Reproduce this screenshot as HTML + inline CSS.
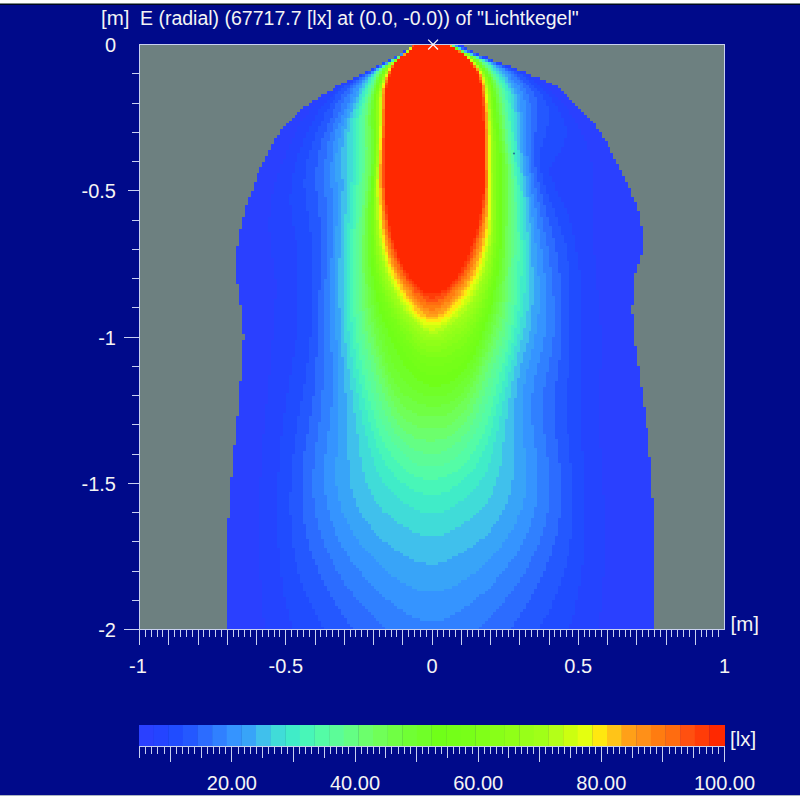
<!DOCTYPE html><html><head><meta charset="utf-8"><style>html,body{margin:0;padding:0;width:800px;height:800px;overflow:hidden;background:#000a8a}svg{display:block}text{font-family:"Liberation Sans",sans-serif;fill:#f4f4f4}</style></head><body><svg width="800" height="800" viewBox="0 0 800 800"><rect x="0" y="0" width="800" height="800" fill="#000a8a"/><rect x="0" y="0" width="800" height="3" fill="#fdfffe"/><rect x="0" y="3" width="800" height="1" fill="#7a8884"/><rect x="0" y="4" width="800" height="1" fill="#000820"/><rect x="0" y="795" width="800" height="1" fill="#a8b4c0"/><rect x="0" y="796" width="800" height="4" fill="#fbfffd"/><text x="101" y="24.8" font-size="20.5">[m]</text><text x="140" y="24.5" font-size="19.5">E (radial) (67717.7 [lx] at (0.0, -0.0)) of "Lichtkegel"</text><rect x="139" y="44" width="586" height="586" fill="#6d8080"/><g transform="translate(139.500 44.500) scale(2.9250)" shape-rendering="crispEdges"><path fill="#2a40ff" d="M93 0V1H92V2H90V3H89V4H87V5H85V6H83V7H81V8H79V9H77V10H75V11H73V12H71V13H69V14H67V15H66V16H64V17H62V18H61V19H59V20H58V21H56V22H55V23H54V24H53V25H52V26H51V27H50V28H49V29H48V31H47V32H46V34H45V36H44V38H43V40H42V42H41V44H40V47H39V50H38V52H37V55H36V59H35V63H34V69H33V82H34V89H35V99H36V101H35V115H34V127H33V137H32V148H31V162H30V200H176V155H175V141H174V131H173V124H172V117H171V110H170V103H169V92H168V89H169V78H170V75H171V72H172V62H171V57H170V54H169V52H168V49H167V47H166V45H165V43H164V41H163V39H162V37H161V35H160V33H159V32H158V30H157V29H156V27H155V26H154V25H153V24H152V23H151V22H150V21H149V20H148V19H147V18H146V17H145V16H144V15H143V14H141V13H139V12H137V11H134V10H132V9H129V8H127V7H124V6H121V5H119V4H116V3H114V2H112V1H111V0Z"/><path fill="#2444ff" d="M93 0V1H92V2H91V3H89V4H87V5H85V6H83V7H81V8H79V9H77V10H75V11H74V12H72V13H70V14H68V15H67V16H65V17H64V18H63V19H61V20H60V21H59V22H58V24H57V25H56V26H55V28H54V30H53V32H52V34H51V36H50V39H49V41H48V44H47V47H46V51H45V59H44V64H45V73H46V80H47V87H46V101H45V113H44V123H43V133H42V148H41V183H42V196H43V200H157V194H158V182H159V154H158V138H157V111H158V96H157V84H156V72H155V40H154V36H153V33H152V31H151V29H150V27H149V25H148V24H147V22H146V21H145V20H144V19H143V18H142V17H141V16H140V15H139V14H138V13H137V12H135V11H133V10H131V9H128V8H126V7H123V6H121V5H118V4H116V3H114V2H112V1H110V0Z"/><path fill="#204cff" d="M93 0V1H92V2H91V3H89V4H87V5H85V6H83V7H82V8H80V9H78V10H76V11H74V12H73V13H71V14H69V15H68V16H67V17H66V18H65V19H64V20H63V21H62V22H61V24H60V26H59V28H58V30H57V32H56V35H55V37H54V40H53V44H52V51H51V55H52V62H53V67H54V101H53V107H52V113H51V119H50V126H49V134H48V146H47V172H48V182H49V189H50V193H51V197H52V200H147V198H148V195H149V190H150V185H151V178H152V139H151V77H150V71H149V65H148V61H147V58H146V56H145V54H144V52H143V50H142V47H141V45H140V42H141V40H142V38H143V37H144V35H145V32H146V28H145V25H144V23H143V21H142V20H141V18H140V17H139V16H138V15H137V14H136V13H135V12H133V11H132V10H130V9H128V8H125V7H123V6H120V5H118V4H115V3H113V2H111V1H110V0Z"/><path fill="#2458ff" d="M93 0V1H92V2H91V3H89V4H87V5H86V6H84V7H82V8H80V9H78V10H76V11H75V12H73V13H72V14H70V15H69V16H68V17H67V19H66V20H65V22H64V23H63V26H62V28H61V30H60V33H59V36H58V39H57V46H56V49H57V57H58V64H59V100H58V109H57V116H56V122H55V127H54V133H53V140H52V153H51V161H52V172H53V177H54V181H55V184H56V187H57V189H58V191H59V193H60V195H61V197H62V199H63V200H137V198H138V196H139V195H140V193H141V190H142V188H143V185H144V182H145V179H146V175H147V169H148V143H147V133H146V114H147V74H146V68H145V65H144V62H143V59H142V56H141V54H140V51H139V48H138V44H137V35H138V32H139V28H140V21H139V19H138V17H137V16H136V15H135V14H134V13H133V12H132V11H131V10H129V9H127V8H125V7H122V6H120V5H117V4H115V3H113V2H111V1H109V0Z"/><path fill="#2c6cff" d="M93 0V1H92V2H91V3H89V4H88V5H86V6H84V7H82V8H80V9H79V10H77V11H75V12H74V13H73V14H72V15H71V16H70V17H69V19H68V20H67V22H66V25H65V27H64V30H63V32H62V36H61V42H60V50H61V59H62V84H61V107H60V120H59V127H58V133H57V139H56V164H57V169H58V173H59V176H60V178H61V181H62V183H63V185H64V187H65V189H66V190H67V192H68V193H69V195H70V196H71V198H72V199H73V200H127V199H128V197H129V196H130V194H131V193H132V191H133V190H134V188H135V186H136V184H137V182H138V180H139V177H140V175H141V171H142V168H143V162H144V143H143V135H142V115H143V108H144V78H143V71H142V66H141V62H140V59H139V55H138V51H137V47H136V42H135V30H136V18H135V16H134V15H133V14H132V13H131V12H130V11H129V10H128V9H126V8H124V7H122V6H119V5H117V4H115V3H113V2H111V1H109V0Z"/><path fill="#3080ff" d="M93 0V1H92V2H91V3H89V4H88V5H86V6H84V7H82V8H81V9H79V10H77V11H76V12H75V13H74V14H73V15H72V17H71V18H70V20H69V23H68V25H67V27H66V30H65V33H64V39H63V52H64V80H63V118H62V129H61V136H60V145H59V155H60V162H61V166H62V169H63V172H64V174H65V176H66V178H67V180H68V181H69V183H70V185H71V186H72V187H73V189H74V190H75V191H76V192H77V193H78V194H79V195H80V196H81V197H82V198H83V199H84V200H116V199H117V198H118V197H119V196H120V195H121V194H122V193H123V192H124V191H125V189H126V188H127V187H128V185H129V184H130V182H131V181H132V179H133V177H134V175H135V173H136V171H137V168H138V165H139V160H140V141H139V133H138V117H139V112H140V107H141V100H142V86H141V76H140V69H139V64H138V59H137V54H136V49H135V44H134V20H133V17H132V15H131V13H130V12H129V11H128V10H127V9H125V8H124V7H122V6H119V5H117V4H114V3H112V2H110V1H109V0Z"/><path fill="#3594ff" d="M93 0V1H92V2H91V3H89V4H88V5H86V6H84V7H83V8H81V9H79V10H78V11H77V12H76V13H75V14H74V15H73V17H72V20H71V22H70V24H69V27H68V29H67V33H66V40H65V49H66V73H65V105H66V124H65V132H64V140H63V154H64V159H65V163H66V165H67V168H68V170H69V172H70V173H71V175H72V177H73V178H74V179H75V180H76V182H77V183H78V184H79V185H80V186H81V187H82V188H83V189H84V190H86V191H87V192H88V193H90V194H91V195H93V196H96V197H104V196H106V195H108V194H110V193H111V192H113V191H114V190H115V189H116V188H118V187H119V186H120V185H121V184H122V182H123V181H124V180H125V179H126V177H127V176H128V175H129V173H130V171H131V169H132V167H133V165H134V162H135V158H136V138H135V130H134V119H135V113H136V109H137V105H138V100H139V78H138V70H137V63H136V56H135V51H134V44H133V38H132V19H131V16H130V14H129V13H128V12H127V10H126V9H125V8H123V7H121V6H119V5H116V4H114V3H112V2H110V1H109V0Z"/><path fill="#38a4f8" d="M93 0V1H92V2H91V3H90V4H88V5H86V6H84V7H83V8H81V9H80V10H78V11H77V12H76V14H75V16H74V18H73V20H72V22H71V25H70V28H69V32H68V37H67V47H68V62H67V101H68V141H67V151H68V156H69V160H70V162H71V164H72V166H73V168H74V169H75V171H76V172H77V173H78V174H79V175H80V176H81V177H82V178H83V179H84V180H85V181H86V182H88V183H89V184H91V185H93V186H95V187H104V186H107V185H109V184H110V183H112V182H113V181H115V180H116V179H117V178H118V177H119V176H120V175H121V174H122V173H123V172H124V170H125V169H126V167H127V166H128V164H129V161H130V159H131V155H132V138H131V116H132V111H133V108H134V104H135V99H136V92H137V79H136V68H135V59H134V52H133V45H132V38H131V23H130V17H129V15H128V13H127V12H126V10H125V9H124V8H122V7H121V6H119V5H116V4H114V3H112V2H110V1H108V0Z"/><path fill="#40c0ec" d="M93 0V1H92V2H91V3H90V4H88V5H86V6H85V7H83V8H81V9H80V10H79V11H78V12H77V13H76V15H75V18H74V20H73V23H72V25H71V29H70V35H69V46H70V50H69V73H68V90H69V107H70V119H71V142H72V152H73V155H74V158H75V160H76V162H77V163H78V164H79V166H80V167H81V168H82V169H83V170H85V171H86V172H87V173H89V174H90V175H92V176H94V177H98V178H102V177H105V176H107V175H109V174H111V173H112V172H114V171H115V170H116V169H118V168H119V167H120V165H121V164H122V163H123V161H124V159H125V157H126V154H127V149H128V121H129V114H130V109H131V105H132V102H133V98H134V89H135V76H134V61H133V52H132V45H131V37H130V23H129V17H128V15H127V13H126V11H125V10H124V9H123V8H122V7H120V6H118V5H116V4H114V3H112V2H110V1H108V0Z"/><path fill="#40dcd8" d="M93 0V1H92V2H91V3H90V4H88V5H86V6H85V7H83V8H82V9H80V10H79V11H78V13H77V15H76V17H75V20H74V22H73V25H72V30H71V58H70V102H71V111H72V118H73V126H74V133H75V141H76V146H77V150H78V152H79V154H80V156H81V157H82V158H83V160H85V161H86V162H87V163H88V164H90V165H92V166H93V167H96V168H104V167H106V166H108V165H110V164H111V163H113V162H114V161H115V160H116V159H117V158H118V157H119V155H120V154H121V151H122V148H123V144H124V136H125V128H126V121H127V115H128V110H129V105H130V101H131V97H132V91H133V64H132V52H131V44H130V36H129V23H128V17H127V15H126V13H125V11H124V10H123V9H122V8H121V7H120V6H118V5H116V4H114V3H111V2H110V1H108V0Z"/><path fill="#40ecc8" d="M93 0V1H92V2H91V3H90V4H88V5H86V6H85V7H83V8H82V9H81V10H80V11H79V12H78V14H77V16H76V19H75V22H74V25H73V47H72V61H71V98H72V107H73V114H74V119H75V125H76V130H77V134H78V138H79V141H80V144H81V146H82V148H83V150H84V151H85V152H86V153H87V154H88V155H89V156H90V157H92V158H94V159H96V160H104V159H106V158H108V157H109V156H111V155H112V154H113V153H114V152H115V151H116V149H117V148H118V146H119V143H120V140H121V136H122V132H123V127H124V122H125V117H126V112H127V108H128V103H129V99H130V93H131V85H132V67H131V50H130V42H129V33H128V22H127V16H126V14H125V12H124V11H123V10H122V9H121V7H119V6H118V5H116V4H113V3H111V2H110V1H108V0Z"/><path fill="#48f6b8" d="M93 0V1H92V2H91V3H90V4H88V5H87V6H85V7H83V8H82V9H81V10H80V11H79V13H78V15H77V18H76V21H75V25H74V48H73V63H72V95H73V104H74V111H75V116H76V121H77V125H78V129H79V132H80V135H81V138H82V140H83V142H84V144H85V145H86V146H87V148H88V149H89V150H91V151H92V152H94V153H97V154H103V153H106V152H107V151H109V150H110V149H111V148H112V147H113V146H114V145H115V143H116V141H117V139H118V137H119V134H120V131H121V127H122V123H123V119H124V115H125V110H126V106H127V102H128V97H129V91H130V79H131V67H130V48H129V40H128V30H127V20H126V16H125V13H124V12H123V10H122V9H121V8H120V7H119V6H117V5H115V4H113V3H111V2H109V1H108V0Z"/><path fill="#54fca6" d="M93 0V1H92V2H91V3H90V4H88V5H87V6H85V7H84V8H82V9H81V10H80V12H79V14H78V17H77V20H76V24H75V48H74V63H73V93H74V102H75V108H76V113H77V118H78V122H79V125H80V128H81V131H82V134H83V136H84V138H85V139H86V141H87V142H88V143H89V144H90V145H91V146H92V147H94V148H97V149H102V148H105V147H107V146H109V145H110V144H111V143H112V142H113V140H114V139H115V137H116V135H117V133H118V130H119V127H120V124H121V120H122V116H123V112H124V109H125V105H126V101H127V96H128V89H129V74H130V64H129V45H128V36H127V26H126V19H125V15H124V13H123V11H122V10H121V9H120V7H119V6H117V5H115V4H113V3H111V2H109V1H108V0Z"/><path fill="#5cfc98" d="M93 0V1H92V2H91V3H90V4H88V5H87V6H85V7H84V8H82V9H81V11H80V13H79V15H78V18H77V22H76V47H75V61H74V92H75V101H76V106H77V111H78V115H79V119H80V122H81V125H82V128H83V130H84V132H85V134H86V136H87V137H88V138H89V139H90V140H91V141H92V142H93V143H95V144H104V143H106V142H108V141H109V140H110V139H111V138H112V136H113V135H114V133H115V131H116V129H117V126H118V123H119V120H120V117H121V114H122V111H123V107H124V104H125V101H126V96H127V89H128V72H129V54H128V41H127V33H126V23H125V17H124V14H123V12H122V10H121V9H120V8H119V7H118V6H117V5H115V4H113V3H111V2H109V1H108V0Z"/><path fill="#64fe84" d="M93 0V1H92V2H91V3H90V4H88V5H87V6H85V7H84V8H83V9H82V10H81V12H80V14H79V17H78V20H77V44H76V59H75V91H76V99H77V104H78V108H79V112H80V115H81V119H82V122H83V125H84V127H85V129H86V131H87V133H88V134H89V135H90V136H91V137H92V138H94V139H97V140H103V139H105V138H107V137H108V136H110V134H111V133H112V132H113V130H114V128H115V126H116V123H117V120H118V117H119V114H120V111H121V109H122V106H123V103H124V100H125V95H126V88H127V73H128V46H127V37H126V29H125V20H124V15H123V13H122V11H121V10H120V8H119V7H118V6H117V5H115V4H113V3H111V2H109V1H108V0Z"/><path fill="#6cff6c" d="M93 0V1H92V2H91V3H90V4H88V5H87V6H85V7H84V8H83V9H82V10H81V12H80V15H79V18H78V24H77V35H78V36H77V55H76V91H77V98H78V102H79V106H80V109H81V113H82V116H83V119H84V122H85V124H86V127H87V128H88V130H89V131H90V132H91V133H93V134H94V135H98V136H101V135H105V134H107V133H108V132H109V131H110V130H111V129H112V127H113V126H114V123H115V121H116V118H117V115H118V112H119V109H120V107H121V104H122V101H123V98H124V94H125V88H126V76H127V41H126V34H125V24H124V18H123V14H122V12H121V10H120V9H119V8H118V7H117V6H116V5H115V4H113V3H111V2H109V1H107V0Z"/><path fill="#70ff58" d="M93 0V1H92V2H91V3H90V4H89V5H87V6H85V7H84V8H83V9H82V11H81V13H80V16H79V20H78V50H77V65H76V78H77V90H78V96H79V100H80V104H81V107H82V111H83V114H84V117H85V120H86V122H87V124H88V126H89V127H90V128H91V129H93V130H95V131H105V130H107V129H108V128H109V127H110V126H111V125H112V123H113V121H114V119H115V116H116V113H117V110H118V108H119V105H120V103H121V100H122V97H123V93H124V88H125V79H126V37H125V29H124V20H123V15H122V12H121V11H120V9H119V8H118V7H117V6H116V5H115V4H113V3H111V2H109V1H107V0Z"/><path fill="#70ff44" d="M93 0V1H92V2H91V3H90V4H89V5H87V6H86V7H84V8H83V10H82V11H81V14H80V17H79V24H78V28H79V45H78V56H77V82H78V90H79V95H80V99H81V103H82V106H83V110H84V113H85V116H86V118H87V120H88V121H89V123H90V124H91V125H93V126H95V127H105V126H107V125H108V124H109V123H110V122H111V121H112V119H113V117H114V115H115V113H116V110H117V107H118V105H119V102H120V99H121V96H122V92H123V88H124V81H125V62H126V41H125V33H124V24H123V17H122V13H121V11H120V10H119V8H118V7H117V6H116V5H114V4H113V3H111V2H109V1H107V0Z"/><path fill="#70ff34" d="M93 0V1H92V2H91V3H90V4H89V5H87V6H86V7H84V8H83V10H82V12H81V15H80V19H79V50H78V83H79V89H80V94H81V97H82V101H83V105H84V109H85V112H86V114H87V116H88V117H89V119H90V120H92V121H93V122H95V123H98V124H103V123H106V122H108V121H109V120H110V119H111V117H112V116H113V114H114V112H115V110H116V107H117V104H118V101H119V99H120V95H121V92H122V88H123V82H124V73H125V37H124V29H123V20H122V15H121V12H120V10H119V9H118V8H117V6H116V5H114V4H112V3H110V2H109V1H107V0Z"/><path fill="#70ff28" d="M93 0V1H92V2H91V3H90V4H89V5H87V6H86V7H85V8H84V9H83V10H82V13H81V16H80V22H79V29H80V41H79V54H78V76H79V84H80V89H81V93H82V96H83V99H84V103H85V106H86V109H87V111H88V112H89V114H90V115H91V116H92V117H93V118H95V119H97V120H105V119H107V118H108V117H109V116H110V115H111V114H112V113H113V111H114V109H115V107H116V104H117V101H118V98H119V95H120V92H121V88H122V83H123V77H124V33H123V23H122V16H121V13H120V11H119V9H118V8H117V7H116V6H115V5H114V4H112V3H110V2H109V1H107V0Z"/><path fill="#70ff18" d="M93 0V1H92V2H91V3H90V4H89V5H87V6H86V7H85V8H84V9H83V11H82V14H81V17H80V45H79V79H80V84H81V88H82V92H83V95H84V97H85V100H86V102H87V104H88V106H89V108H90V110H91V111H92V112H93V113H94V114H95V115H97V116H99V117H103V116H106V115H108V114H109V113H110V112H111V111H112V109H113V108H114V106H115V103H116V101H117V98H118V95H119V92H120V89H121V84H122V79H123V70H124V37H123V27H122V18H121V14H120V11H119V10H118V8H117V7H116V6H115V5H114V4H112V3H110V2H109V1H107V0Z"/><path fill="#74ff18" d="M93 0V1H92V2H91V3H90V4H89V5H87V6H86V7H85V8H84V9H83V11H82V14H81V19H80V49H79V73H80V80H81V85H82V88H83V91H84V94H85V96H86V98H87V100H88V102H89V103H90V105H91V107H92V108H93V109H94V110H95V111H96V112H98V113H105V112H107V111H109V110H110V109H111V108H112V106H113V105H114V103H115V101H116V98H117V95H118V92H119V89H120V85H121V81H122V74H123V31H122V22H121V15H120V12H119V10H118V8H117V7H116V6H115V5H114V4H112V3H110V2H109V1H107V0Z"/><path fill="#78ff18" d="M93 0V1H92V2H91V3H90V4H89V5H87V6H86V7H85V8H84V10H83V12H82V15H81V22H80V26H81V36H80V55H79V65H80V76H81V81H82V85H83V88H84V91H85V93H86V95H87V97H88V99H89V100H90V102H91V103H92V104H93V106H94V107H95V108H96V109H98V110H104V109H107V108H108V107H110V106H111V105H112V103H113V102H114V100H115V98H116V95H117V93H118V90H119V86H120V82H121V77H122V69H123V36H122V25H121V16H120V12H119V10H118V9H117V7H116V6H115V5H114V4H112V3H110V2H109V1H107V0Z"/><path fill="#80ff18" d="M93 0V1H92V2H91V3H90V4H89V5H87V6H86V7H85V8H84V10H83V13H82V16H81V41H80V72H81V78H82V82H83V85H84V88H85V90H86V93H87V94H88V96H89V98H90V99H91V101H92V102H93V103H94V104H95V105H96V106H98V107H105V106H107V105H108V104H110V103H111V102H112V100H113V99H114V97H115V95H116V93H117V90H118V87H119V83H120V79H121V73H122V29H121V19H120V13H119V11H118V9H117V8H116V7H115V6H114V5H113V4H112V3H110V2H108V1H107V0Z"/><path fill="#88ff18" d="M93 0V1H92V2H91V3H90V4H89V5H87V6H86V7H85V8H84V10H83V13H82V17H81V45H80V67H81V75H82V79H83V83H84V86H85V88H86V90H87V92H88V94H89V96H90V97H91V98H92V99H93V101H94V102H95V103H96V104H98V105H103V104H105V103H107V102H109V101H110V100H111V99H112V98H113V96H114V95H115V92H116V90H117V87H118V84H119V80H120V76H121V68H122V33H121V22H120V14H119V11H118V9H117V8H116V7H115V6H114V5H113V4H112V3H110V2H108V1H107V0Z"/><path fill="#90ff18" d="M93 0V1H92V2H91V3H90V4H89V5H88V6H86V7H85V9H84V11H83V14H82V19H81V49H80V60H81V72H82V77H83V81H84V84H85V86H86V88H87V90H88V92H89V94H90V95H91V96H92V98H93V99H94V100H95V101H96V102H98V103H103V102H105V101H107V100H108V99H110V98H111V97H112V95H113V94H114V92H115V90H116V88H117V85H118V82H119V78H120V72H121V60H122V53H121V25H120V16H119V12H118V10H117V8H116V7H115V6H114V5H113V4H112V3H110V2H108V1H107V0Z"/><path fill="#98ff18" d="M93 0V1H92V2H91V3H90V4H89V5H88V6H86V7H85V9H84V11H83V15H82V34H81V69H82V74H83V78H84V82H85V84H86V87H87V89H88V90H89V92H90V94H91V95H92V96H93V97H94V98H95V99H96V100H97V101H104V100H105V99H107V98H108V97H110V96H111V95H112V93H113V92H114V90H115V88H116V85H117V82H118V79H119V75H120V68H121V28H120V17H119V12H118V10H117V8H116V7H115V6H114V5H113V4H112V3H110V2H108V1H107V0Z"/><path fill="#a0ff18" d="M93 0V1H92V2H91V3H90V4H89V5H88V6H86V7H85V9H84V12H83V15H82V38H81V65H82V72H83V76H84V80H85V83H86V85H87V87H88V89H89V90H90V92H91V93H92V95H93V96H94V97H95V98H96V99H98V100H103V99H104V98H106V97H107V96H109V95H110V94H111V93H112V91H113V90H114V88H115V86H116V83H117V80H118V77H119V72H120V64H121V44H120V20H119V13H118V10H117V9H116V7H115V6H114V5H113V4H112V3H110V2H108V1H107V0Z"/><path fill="#b4ff18" d="M93 0V1H92V2H91V3H90V4H89V5H88V6H86V8H85V10H84V12H83V16H82V42H81V60H82V69H83V74H84V78H85V81H86V83H87V85H88V87H89V89H90V91H91V92H92V93H93V94H94V95H95V96H96V97H97V98H99V99H102V98H104V97H105V96H107V95H108V94H109V93H110V92H111V91H112V89H113V88H114V86H115V84H116V81H117V78H118V74H119V69H120V22H119V14H118V11H117V9H116V7H115V6H114V5H113V4H111V3H110V2H108V1H107V0Z"/><path fill="#ccff10" d="M93 0V1H92V3H90V4H89V5H88V6H87V7H86V8H85V10H84V13H83V18H82V46H81V52H82V66H83V72H84V76H85V79H86V82H87V84H88V86H89V88H90V89H91V91H92V92H93V93H94V94H95V95H96V96H97V97H99V98H101V97H103V96H105V95H106V94H107V93H109V91H110V90H111V89H112V88H113V86H114V84H115V82H116V79H117V76H118V71H119V65H120V26H119V15H118V11H117V9H116V8H115V6H114V5H113V4H111V3H110V2H108V1H107V0Z"/><path fill="#e4ff10" d="M93 0V1H92V3H90V4H89V5H88V6H87V7H86V8H85V10H84V13H83V28H82V63H83V70H84V74H85V78H86V80H87V83H88V84H89V86H90V88H91V89H92V91H93V92H94V93H95V94H96V95H97V96H103V95H105V94H106V93H107V92H108V91H109V90H110V89H111V87H112V86H113V84H114V82H115V80H116V77H117V73H118V69H119V60H120V31H119V17H118V12H117V9H116V8H115V7H114V6H113V5H112V4H111V3H110V2H108V1H107V0Z"/><path fill="#ffe810" d="M93 0V2H92V3H90V4H89V5H88V6H87V7H86V8H85V11H84V14H83V32H82V60H83V68H84V72H85V76H86V79H87V81H88V83H89V85H90V87H91V88H92V89H93V91H94V92H95V93H96V94H98V95H103V94H104V93H106V92H107V91H108V90H109V89H110V87H111V86H112V84H113V82H114V80H115V78H116V75H117V71H118V66H119V19H118V12H117V10H116V8H115V7H114V6H113V5H112V4H111V3H110V2H108V1H107V0Z"/><path fill="#ffc418" d="M93 0V2H92V3H90V4H89V5H88V6H87V7H86V9H85V11H84V15H83V36H82V55H83V65H84V71H85V75H86V77H87V80H88V82H89V84H90V85H91V87H92V88H93V89H94V91H95V92H96V93H98V94H102V93H104V92H105V91H106V90H107V89H108V88H109V87H110V86H111V84H112V83H113V81H114V79H115V76H116V73H117V69H118V63H119V20H118V13H117V10H116V8H115V7H114V6H113V5H112V4H111V3H110V2H108V1H107V0Z"/><path fill="#ffa018" d="M93 0V2H92V3H90V4H89V5H88V6H87V7H86V9H85V11H84V15H83V41H82V49H83V63H84V69H85V73H86V76H87V78H88V80H89V82H90V84H91V86H92V87H93V88H94V89H95V90H96V91H97V92H98V93H102V92H104V91H105V90H106V89H107V88H108V87H109V86H110V84H111V83H112V81H113V79H114V77H115V74H116V71H117V66H118V59H119V23H118V14H117V10H116V8H115V7H114V6H113V5H112V4H111V3H110V2H108V1H106V0Z"/><path fill="#ff9018" d="M93 0V2H92V3H91V4H89V5H88V6H87V7H86V9H85V12H84V17H83V60H84V67H85V72H86V75H87V77H88V79H89V81H90V83H91V84H92V86H93V87H94V88H95V89H96V90H97V91H99V92H102V91H103V90H105V89H106V88H107V87H108V86H109V84H110V83H111V81H112V80H113V77H114V75H115V72H116V69H117V64H118V55H119V29H118V14H117V11H116V9H115V7H114V6H113V5H112V4H111V3H110V2H108V1H106V0Z"/><path fill="#ff7c10" d="M93 0V2H92V3H91V4H89V5H88V6H87V7H86V9H85V12H84V22H83V57H84V65H85V70H86V73H87V76H88V78H89V80H90V82H91V83H92V84H93V86H94V87H95V88H96V89H97V90H99V91H101V90H103V89H104V88H106V87H107V86H108V84H109V83H110V82H111V80H112V78H113V76H114V73H115V70H116V66H117V61H118V49H119V43H118V16H117V11H116V9H115V7H114V6H113V5H112V4H111V3H110V2H108V1H106V0Z"/><path fill="#ff6c10" d="M93 0V2H92V3H91V4H89V5H88V6H87V7H86V10H85V13H84V28H83V53H84V63H85V68H86V72H87V74H88V77H89V79H90V80H91V82H92V83H93V85H94V86H95V87H96V88H98V89H103V88H104V87H105V86H106V85H107V84H108V83H109V82H110V80H111V79H112V77H113V74H114V72H115V68H116V64H117V58H118V17H117V12H116V9H115V8H114V6H113V5H112V4H111V3H109V2H108V1H106V0Z"/><path fill="#ff5010" d="M93 0V2H92V3H91V4H89V5H88V6H87V8H86V10H85V13H84V32H83V49H84V60H85V66H86V70H87V73H88V75H89V77H90V79H91V81H92V82H93V83H94V85H96V86H97V87H98V88H102V87H104V86H105V85H106V84H107V83H108V82H109V81H110V79H111V77H112V75H113V73H114V70H115V66H116V62H117V56H118V18H117V12H116V9H115V8H114V6H113V5H112V4H111V3H109V2H108V1H106V0Z"/><path fill="#ff3c08" d="M94 0V1H93V2H92V3H91V4H89V5H88V6H87V8H86V10H85V14H84V58H85V64H86V68H87V71H88V74H89V76H90V78H91V80H92V81H93V82H94V83H95V84H96V85H97V86H99V87H101V86H103V85H105V84H106V83H107V82H108V81H109V79H110V78H111V76H112V74H113V71H114V68H115V65H116V60H117V53H118V21H117V13H116V9H115V8H114V6H113V5H112V4H111V3H109V2H108V1H106V0Z"/><path fill="#ff2800" d="M94 0V1H93V2H92V3H91V4H89V5H88V6H87V8H86V11H85V15H84V55H85V62H86V67H87V70H88V73H89V75H90V77H91V78H92V80H93V81H94V82H95V83H96V84H97V85H103V84H105V83H106V82H107V81H108V80H109V78H110V76H111V74H112V72H113V69H114V66H115V63H116V58H117V51H118V26H117V13H116V10H115V8H114V7H113V5H112V4H111V3H109V2H108V1H106V0Z"/></g><circle cx="514" cy="153.5" r="1.1" fill="#2a7a98"/><g fill="#c8d0f0" shape-rendering="crispEdges"><rect x="139" y="44" width="586" height="1"/><rect x="139" y="629" width="586" height="1"/><rect x="139" y="44" width="1" height="601"/><rect x="724" y="44" width="1" height="586"/><rect x="144.85" y="630" width="1" height="7"/><rect x="150.70" y="630" width="1" height="7"/><rect x="156.55" y="630" width="1" height="7"/><rect x="162.40" y="630" width="1" height="7"/><rect x="168.25" y="630" width="1" height="15"/><rect x="174.10" y="630" width="1" height="7"/><rect x="179.95" y="630" width="1" height="7"/><rect x="185.80" y="630" width="1" height="7"/><rect x="191.65" y="630" width="1" height="7"/><rect x="197.50" y="630" width="1" height="15"/><rect x="203.35" y="630" width="1" height="7"/><rect x="209.20" y="630" width="1" height="7"/><rect x="215.05" y="630" width="1" height="7"/><rect x="220.90" y="630" width="1" height="7"/><rect x="226.75" y="630" width="1" height="15"/><rect x="232.60" y="630" width="1" height="7"/><rect x="238.45" y="630" width="1" height="7"/><rect x="244.30" y="630" width="1" height="7"/><rect x="250.15" y="630" width="1" height="7"/><rect x="256.00" y="630" width="1" height="15"/><rect x="261.85" y="630" width="1" height="7"/><rect x="267.70" y="630" width="1" height="7"/><rect x="273.55" y="630" width="1" height="7"/><rect x="279.40" y="630" width="1" height="7"/><rect x="285.25" y="630" width="1" height="15"/><rect x="291.10" y="630" width="1" height="7"/><rect x="296.95" y="630" width="1" height="7"/><rect x="302.80" y="630" width="1" height="7"/><rect x="308.65" y="630" width="1" height="7"/><rect x="314.50" y="630" width="1" height="15"/><rect x="320.35" y="630" width="1" height="7"/><rect x="326.20" y="630" width="1" height="7"/><rect x="332.05" y="630" width="1" height="7"/><rect x="337.90" y="630" width="1" height="7"/><rect x="343.75" y="630" width="1" height="15"/><rect x="349.60" y="630" width="1" height="7"/><rect x="355.45" y="630" width="1" height="7"/><rect x="361.30" y="630" width="1" height="7"/><rect x="367.15" y="630" width="1" height="7"/><rect x="373.00" y="630" width="1" height="15"/><rect x="378.85" y="630" width="1" height="7"/><rect x="384.70" y="630" width="1" height="7"/><rect x="390.55" y="630" width="1" height="7"/><rect x="396.40" y="630" width="1" height="7"/><rect x="402.25" y="630" width="1" height="15"/><rect x="408.10" y="630" width="1" height="7"/><rect x="413.95" y="630" width="1" height="7"/><rect x="419.80" y="630" width="1" height="7"/><rect x="425.65" y="630" width="1" height="7"/><rect x="431.50" y="630" width="1" height="15"/><rect x="437.35" y="630" width="1" height="7"/><rect x="443.20" y="630" width="1" height="7"/><rect x="449.05" y="630" width="1" height="7"/><rect x="454.90" y="630" width="1" height="7"/><rect x="460.75" y="630" width="1" height="15"/><rect x="466.60" y="630" width="1" height="7"/><rect x="472.45" y="630" width="1" height="7"/><rect x="478.30" y="630" width="1" height="7"/><rect x="484.15" y="630" width="1" height="7"/><rect x="490.00" y="630" width="1" height="15"/><rect x="495.85" y="630" width="1" height="7"/><rect x="501.70" y="630" width="1" height="7"/><rect x="507.55" y="630" width="1" height="7"/><rect x="513.40" y="630" width="1" height="7"/><rect x="519.25" y="630" width="1" height="15"/><rect x="525.10" y="630" width="1" height="7"/><rect x="530.95" y="630" width="1" height="7"/><rect x="536.80" y="630" width="1" height="7"/><rect x="542.65" y="630" width="1" height="7"/><rect x="548.50" y="630" width="1" height="15"/><rect x="554.35" y="630" width="1" height="7"/><rect x="560.20" y="630" width="1" height="7"/><rect x="566.05" y="630" width="1" height="7"/><rect x="571.90" y="630" width="1" height="7"/><rect x="577.75" y="630" width="1" height="15"/><rect x="583.60" y="630" width="1" height="7"/><rect x="589.45" y="630" width="1" height="7"/><rect x="595.30" y="630" width="1" height="7"/><rect x="601.15" y="630" width="1" height="7"/><rect x="607.00" y="630" width="1" height="15"/><rect x="612.85" y="630" width="1" height="7"/><rect x="618.70" y="630" width="1" height="7"/><rect x="624.55" y="630" width="1" height="7"/><rect x="630.40" y="630" width="1" height="7"/><rect x="636.25" y="630" width="1" height="15"/><rect x="642.10" y="630" width="1" height="7"/><rect x="647.95" y="630" width="1" height="7"/><rect x="653.80" y="630" width="1" height="7"/><rect x="659.65" y="630" width="1" height="7"/><rect x="665.50" y="630" width="1" height="15"/><rect x="671.35" y="630" width="1" height="7"/><rect x="677.20" y="630" width="1" height="7"/><rect x="683.05" y="630" width="1" height="7"/><rect x="688.90" y="630" width="1" height="7"/><rect x="694.75" y="630" width="1" height="15"/><rect x="700.60" y="630" width="1" height="7"/><rect x="706.45" y="630" width="1" height="7"/><rect x="712.30" y="630" width="1" height="7"/><rect x="718.15" y="630" width="1" height="7"/><rect x="132" y="73.25" width="7" height="1"/><rect x="132" y="102.50" width="7" height="1"/><rect x="132" y="131.75" width="7" height="1"/><rect x="132" y="161.00" width="7" height="1"/><rect x="128" y="190.25" width="11" height="1"/><rect x="132" y="219.50" width="7" height="1"/><rect x="132" y="248.75" width="7" height="1"/><rect x="132" y="278.00" width="7" height="1"/><rect x="132" y="307.25" width="7" height="1"/><rect x="124" y="336.50" width="15" height="1"/><rect x="132" y="365.75" width="7" height="1"/><rect x="132" y="395.00" width="7" height="1"/><rect x="132" y="424.25" width="7" height="1"/><rect x="132" y="453.50" width="7" height="1"/><rect x="128" y="482.75" width="11" height="1"/><rect x="132" y="512.00" width="7" height="1"/><rect x="132" y="541.25" width="7" height="1"/><rect x="132" y="570.50" width="7" height="1"/><rect x="132" y="599.75" width="7" height="1"/><rect x="124" y="629.00" width="15" height="1"/></g><g stroke="#ffffff" stroke-width="1.2"><line x1="428.2" y1="39.7" x2="438" y2="49.5"/><line x1="438" y1="39.7" x2="428.2" y2="49.5"/></g><text x="116" y="52.0" font-size="20" text-anchor="end">0</text><text x="116" y="198.2" font-size="20" text-anchor="end">-0.5</text><text x="116" y="344.5" font-size="20" text-anchor="end">-1</text><text x="116" y="490.8" font-size="20" text-anchor="end">-1.5</text><text x="116" y="637.0" font-size="20" text-anchor="end">-2</text><text x="138.0" y="672.5" font-size="20" text-anchor="middle">-1</text><text x="285.8" y="672.5" font-size="20" text-anchor="middle">-0.5</text><text x="432.0" y="672.5" font-size="20" text-anchor="middle">0</text><text x="578.2" y="672.5" font-size="20" text-anchor="middle">0.5</text><text x="724.5" y="672.5" font-size="20" text-anchor="middle">1</text><text x="730.5" y="630.5" font-size="20.5">[m]</text><rect x="139.00" y="725" width="14.93" height="21" fill="#2a40ff"/><rect x="153.62" y="725" width="14.93" height="21" fill="#2444ff"/><rect x="168.25" y="725" width="14.93" height="21" fill="#204cff"/><rect x="182.88" y="725" width="14.93" height="21" fill="#2458ff"/><rect x="197.50" y="725" width="14.93" height="21" fill="#2c6cff"/><rect x="212.12" y="725" width="14.93" height="21" fill="#3080ff"/><rect x="226.75" y="725" width="14.93" height="21" fill="#3594ff"/><rect x="241.38" y="725" width="14.93" height="21" fill="#38a4f8"/><rect x="256.00" y="725" width="14.93" height="21" fill="#40c0ec"/><rect x="270.62" y="725" width="14.93" height="21" fill="#40dcd8"/><rect x="285.25" y="725" width="14.93" height="21" fill="#40ecc8"/><rect x="299.88" y="725" width="14.93" height="21" fill="#48f6b8"/><rect x="314.50" y="725" width="14.93" height="21" fill="#54fca6"/><rect x="329.12" y="725" width="14.93" height="21" fill="#5cfc98"/><rect x="343.75" y="725" width="14.93" height="21" fill="#64fe84"/><rect x="358.38" y="725" width="14.93" height="21" fill="#6cff6c"/><rect x="373.00" y="725" width="14.93" height="21" fill="#70ff58"/><rect x="387.62" y="725" width="14.93" height="21" fill="#70ff44"/><rect x="402.25" y="725" width="14.93" height="21" fill="#70ff34"/><rect x="416.88" y="725" width="14.93" height="21" fill="#70ff28"/><rect x="431.50" y="725" width="14.93" height="21" fill="#70ff18"/><rect x="446.12" y="725" width="14.93" height="21" fill="#74ff18"/><rect x="460.75" y="725" width="14.93" height="21" fill="#78ff18"/><rect x="475.38" y="725" width="14.93" height="21" fill="#80ff18"/><rect x="490.00" y="725" width="14.93" height="21" fill="#88ff18"/><rect x="504.62" y="725" width="14.93" height="21" fill="#90ff18"/><rect x="519.25" y="725" width="14.93" height="21" fill="#98ff18"/><rect x="533.88" y="725" width="14.93" height="21" fill="#a0ff18"/><rect x="548.50" y="725" width="14.93" height="21" fill="#b4ff18"/><rect x="563.12" y="725" width="14.93" height="21" fill="#ccff10"/><rect x="577.75" y="725" width="14.93" height="21" fill="#e4ff10"/><rect x="592.38" y="725" width="14.93" height="21" fill="#ffe810"/><rect x="607.00" y="725" width="14.93" height="21" fill="#ffc418"/><rect x="621.62" y="725" width="14.93" height="21" fill="#ffa018"/><rect x="636.25" y="725" width="14.93" height="21" fill="#ff9018"/><rect x="650.88" y="725" width="14.93" height="21" fill="#ff7c10"/><rect x="665.50" y="725" width="14.93" height="21" fill="#ff6c10"/><rect x="680.12" y="725" width="14.93" height="21" fill="#ff5010"/><rect x="694.75" y="725" width="14.93" height="21" fill="#ff3c08"/><rect x="709.38" y="725" width="15.62" height="21" fill="#ff2800"/><g fill="#c8d0f0" shape-rendering="crispEdges"><rect x="139" y="746" width="586" height="1"/><rect x="139.00" y="747" width="1" height="11"/><rect x="145.16" y="747" width="1" height="7"/><rect x="151.32" y="747" width="1" height="7"/><rect x="157.47" y="747" width="1" height="7"/><rect x="163.63" y="747" width="1" height="7"/><rect x="169.79" y="747" width="1" height="15"/><rect x="175.95" y="747" width="1" height="7"/><rect x="182.11" y="747" width="1" height="7"/><rect x="188.26" y="747" width="1" height="7"/><rect x="194.42" y="747" width="1" height="7"/><rect x="200.58" y="747" width="1" height="11"/><rect x="206.74" y="747" width="1" height="7"/><rect x="212.89" y="747" width="1" height="7"/><rect x="219.05" y="747" width="1" height="7"/><rect x="225.21" y="747" width="1" height="7"/><rect x="231.37" y="747" width="1" height="15"/><rect x="237.53" y="747" width="1" height="7"/><rect x="243.68" y="747" width="1" height="7"/><rect x="249.84" y="747" width="1" height="7"/><rect x="256.00" y="747" width="1" height="7"/><rect x="262.16" y="747" width="1" height="11"/><rect x="268.32" y="747" width="1" height="7"/><rect x="274.47" y="747" width="1" height="7"/><rect x="280.63" y="747" width="1" height="7"/><rect x="286.79" y="747" width="1" height="7"/><rect x="292.95" y="747" width="1" height="15"/><rect x="299.11" y="747" width="1" height="7"/><rect x="305.26" y="747" width="1" height="7"/><rect x="311.42" y="747" width="1" height="7"/><rect x="317.58" y="747" width="1" height="7"/><rect x="323.74" y="747" width="1" height="11"/><rect x="329.89" y="747" width="1" height="7"/><rect x="336.05" y="747" width="1" height="7"/><rect x="342.21" y="747" width="1" height="7"/><rect x="348.37" y="747" width="1" height="7"/><rect x="354.53" y="747" width="1" height="15"/><rect x="360.68" y="747" width="1" height="7"/><rect x="366.84" y="747" width="1" height="7"/><rect x="373.00" y="747" width="1" height="7"/><rect x="379.16" y="747" width="1" height="7"/><rect x="385.32" y="747" width="1" height="11"/><rect x="391.47" y="747" width="1" height="7"/><rect x="397.63" y="747" width="1" height="7"/><rect x="403.79" y="747" width="1" height="7"/><rect x="409.95" y="747" width="1" height="7"/><rect x="416.11" y="747" width="1" height="15"/><rect x="422.26" y="747" width="1" height="7"/><rect x="428.42" y="747" width="1" height="7"/><rect x="434.58" y="747" width="1" height="7"/><rect x="440.74" y="747" width="1" height="7"/><rect x="446.89" y="747" width="1" height="11"/><rect x="453.05" y="747" width="1" height="7"/><rect x="459.21" y="747" width="1" height="7"/><rect x="465.37" y="747" width="1" height="7"/><rect x="471.53" y="747" width="1" height="7"/><rect x="477.68" y="747" width="1" height="15"/><rect x="483.84" y="747" width="1" height="7"/><rect x="490.00" y="747" width="1" height="7"/><rect x="496.16" y="747" width="1" height="7"/><rect x="502.32" y="747" width="1" height="7"/><rect x="508.47" y="747" width="1" height="11"/><rect x="514.63" y="747" width="1" height="7"/><rect x="520.79" y="747" width="1" height="7"/><rect x="526.95" y="747" width="1" height="7"/><rect x="533.11" y="747" width="1" height="7"/><rect x="539.26" y="747" width="1" height="15"/><rect x="545.42" y="747" width="1" height="7"/><rect x="551.58" y="747" width="1" height="7"/><rect x="557.74" y="747" width="1" height="7"/><rect x="563.89" y="747" width="1" height="7"/><rect x="570.05" y="747" width="1" height="11"/><rect x="576.21" y="747" width="1" height="7"/><rect x="582.37" y="747" width="1" height="7"/><rect x="588.53" y="747" width="1" height="7"/><rect x="594.68" y="747" width="1" height="7"/><rect x="600.84" y="747" width="1" height="15"/><rect x="607.00" y="747" width="1" height="7"/><rect x="613.16" y="747" width="1" height="7"/><rect x="619.32" y="747" width="1" height="7"/><rect x="625.47" y="747" width="1" height="7"/><rect x="631.63" y="747" width="1" height="11"/><rect x="637.79" y="747" width="1" height="7"/><rect x="643.95" y="747" width="1" height="7"/><rect x="650.11" y="747" width="1" height="7"/><rect x="656.26" y="747" width="1" height="7"/><rect x="662.42" y="747" width="1" height="15"/><rect x="668.58" y="747" width="1" height="7"/><rect x="674.74" y="747" width="1" height="7"/><rect x="680.89" y="747" width="1" height="7"/><rect x="687.05" y="747" width="1" height="7"/><rect x="693.21" y="747" width="1" height="11"/><rect x="699.37" y="747" width="1" height="7"/><rect x="705.53" y="747" width="1" height="7"/><rect x="711.68" y="747" width="1" height="7"/><rect x="717.84" y="747" width="1" height="7"/><rect x="724.00" y="747" width="1" height="15"/></g><text x="231.9" y="789.5" font-size="20" text-anchor="middle">20.00</text><text x="355.0" y="789.5" font-size="20" text-anchor="middle">40.00</text><text x="478.2" y="789.5" font-size="20" text-anchor="middle">60.00</text><text x="601.3" y="789.5" font-size="20" text-anchor="middle">80.00</text><text x="724.5" y="789.5" font-size="20" text-anchor="middle">100.00</text><text x="730" y="746" font-size="20.5">[lx]</text></svg></body></html>
